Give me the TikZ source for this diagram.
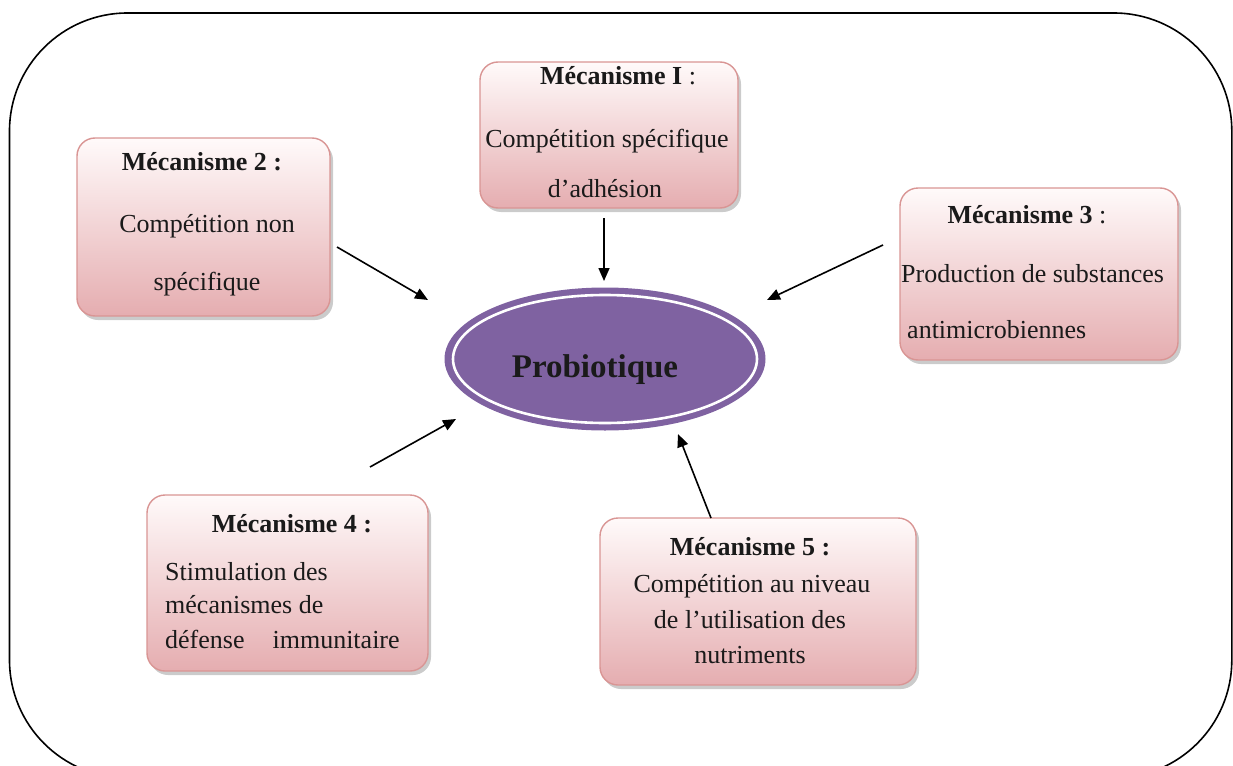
\documentclass[tikz,border=0pt]{standalone}
\usepackage{fontspec}
\setmainfont{Liberation Serif}
\usetikzlibrary{arrows.meta,shapes.geometric,shadows}
\definecolor{boxtop}{HTML}{FFFAFA}
\definecolor{boxbot}{HTML}{E5ADB0}
\definecolor{boxline}{HTML}{D99594}
\definecolor{prob}{HTML}{7F62A1}
\definecolor{ink}{HTML}{1A1A1A}
\begin{document}
\begin{tikzpicture}[x=1pt,y=-1pt,
  mbox/.style={draw=boxline, line width=1.4pt, rounded corners=18pt, top color=boxtop, bottom color=boxbot,
    drop shadow={shadow xshift=3pt, shadow yshift=-4pt, fill=black!45, opacity=.45}},
  txt/.style={anchor=base, inner sep=0pt, text=ink, font=\fontsize{26}{30}\selectfont},
  txtl/.style={txt, anchor=base west},
  arr/.style={line width=1.6pt, -{Triangle[length=13pt,width=11pt]}}]
\useasboundingbox (0,0) rectangle (1233,765);
\begin{scope}
\clip (0,0) rectangle (1233,765);
\draw[line width=1.6pt, rounded corners=118pt] (9.5,13) rectangle (1231.8,778);
\end{scope}

% boxes
\node[mbox, minimum width=258pt, minimum height=146pt] (b1) at (609,135) {};
\node[mbox, minimum width=253pt, minimum height=178pt] (b2) at (203.5,227) {};
\node[mbox, minimum width=278pt, minimum height=172pt] (b3) at (1039,274) {};
\node[mbox, minimum width=281pt, minimum height=176pt] (b4) at (287.5,583) {};
\node[mbox, minimum width=316pt, minimum height=167pt] (b5) at (758,601.5) {};

% central ellipse
\node[ellipse, fill=prob, minimum width=321pt, minimum height=143pt, inner sep=0pt] (p) at (605,359) {};
\draw[white, line width=2.6pt] (p.center) ellipse [x radius=152pt, y radius=64pt];
\node[txt, font=\bfseries\fontsize{33}{36}\selectfont] (pt) at (595,377) {Probiotique};

% box texts
\node[txt] (t1a) at (618,85) {\textbf{Mécanisme I} :};
\node[txt] (t1b) at (607,147) {Compétition spécifique};
\node[txt] (t1c) at (605,197) {d’adhésion};

\node[txt] (t2a) at (202,170) {\textbf{Mécanisme 2 :}};
\node[txt] (t2b) at (207,232) {Compétition non};
\node[txt] (t2c) at (207,290) {spécifique};

\node[txt] (t3a) at (1027,223) {\textbf{Mécanisme 3} :};
\node[txtl] (t3b) at (901,282) {Production de substances};
\node[txtl] (t3c) at (907,338) {antimicrobiennes};

\node[txt] (t4a) at (292,532) {\textbf{Mécanisme 4 :}};
\node[txtl] (t4b) at (165,580) {Stimulation des};
\node[txtl] (t4c) at (165,613) {mécanismes de};
\node[txtl] (t4d) at (165,648) {défense\hspace{28pt}immunitaire};

\node[txt] (t5a) at (750,555) {\textbf{Mécanisme 5 :}};
\node[txt] (t5b) at (752,592) {Compétition au niveau};
\node[txt] (t5c) at (750,628) {de l’utilisation des};
\node[txt] (t5d) at (750,663) {nutriments};

% arrows
\coordinate (s1) at (604,218); \coordinate (e1) at (604,281);
\coordinate (s2) at (337,247); \coordinate (e2) at (428,300);
\coordinate (s3) at (883,245); \coordinate (e3) at (767,300);
\coordinate (s4) at (370,467); \coordinate (e4) at (456,419);
\coordinate (s5) at (711,518); \coordinate (e5) at (678,434);
\draw[arr] (s1) -- (e1);
\draw[arr] (s2) -- (e2);
\draw[arr] (s3) -- (e3);
\draw[arr] (s4) -- (e4);
\draw[arr] (s5) -- (e5);
\end{tikzpicture}
\end{document}
